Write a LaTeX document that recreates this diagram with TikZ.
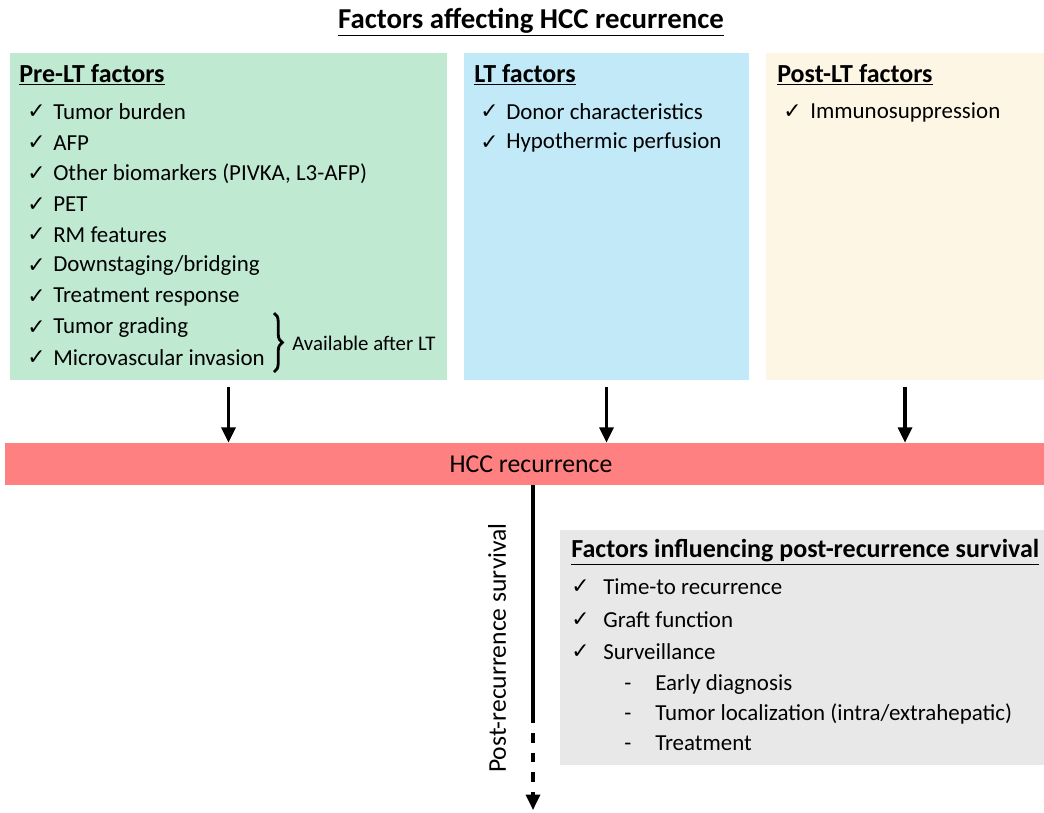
\documentclass[tikz,border=0pt]{standalone}
\usepackage{fontspec}
\setmainfont{Carlito}
\newfontfamily\symfont{DejaVu Sans}
\usepackage{xcolor}
\usetikzlibrary{arrows.meta, positioning, fit, decorations.pathreplacing}

\definecolor{pregreen}{RGB}{192,233,210}
\definecolor{ltblue}{RGB}{193,233,248}
\definecolor{postcream}{RGB}{254,246,228}
\definecolor{recred}{RGB}{255,128,128}
\definecolor{survgrey}{RGB}{232,232,232}

\tikzset{
  panel/.style={inner sep=0pt, draw=none},
  head/.style={anchor=west, inner sep=0pt, font=\fontsize{18.5}{22}\selectfont\bfseries},
  item/.style={anchor=west, inner sep=0pt, font=\fontsize{16.3}{19}\selectfont},
  tick/.style={anchor=west, inner sep=0pt, font=\fontsize{15.5}{18}\selectfont\symfont},
  arr/.style={line width=2.2pt, -{Triangle[length=11pt, width=10pt]}}
}

\begin{document}
\begin{tikzpicture}[x=0.025cm, y=-0.025cm]
  \useasboundingbox (0,0) rectangle (1044,812);
  \fill[white] (0,0) rectangle (1044,812);

  % === TITLE ===
  \node[inner sep=0pt, font=\fontsize{20.5}{24}\selectfont\bfseries] (title) at (531,22)
    {\underline{Factors affecting HCC recurrence}};

  % === TOP PANELS ===
  \node[panel, fill=pregreen, fit={(10,53) (447,380)}] (pre) {};
  \node[panel, fill=ltblue, fit={(464,53) (749,380)}] (lt) {};
  \node[panel, fill=postcream, fit={(766,53) (1044,380)}] (post) {};

  % Pre-LT factors
  \node[head] (prehead) at (19,75) {\underline{Pre-LT factors}};
  \foreach \t [count=\i from 0] in {Tumor burden, AFP, {Other biomarkers (PIVKA, L3-AFP)},
      PET, RM features, Downstaging/bridging, Treatment response, Tumor grading,
      Microvascular invasion} {
    \node[tick] (prechk\i) at (27,112+\i*30.75) {✓};
    \node[item] (pre\i) at (53,112+\i*30.75) {\t};
  }
  \draw[line width=2pt, decorate, decoration={brace, amplitude=6pt}]
    (274,313) -- (274,372);
  \node[anchor=west, inner sep=0pt, font=\fontsize{14.8}{17}\selectfont] (after) at (292,343)
    {Available after LT};

  % LT factors
  \node[head] (lthead) at (474,75) {\underline{LT factors}};
  \foreach \t [count=\i from 0] in {Donor characteristics, Hypothermic perfusion} {
    \node[tick] (ltchk\i) at (480,112+\i*30.75) {✓};
    \node[item] (lt\i) at (506,112+\i*30.75) {\t};
  }

  % Post-LT factors
  \node[head] (posthead) at (777,75) {\underline{Post-LT factors}};
  \node[tick] (postchk0) at (783,112) {✓};
  \node[item] (post0) at (810,112) {Immunosuppression};

  % === HCC RECURRENCE BAR ===
  \node[panel, fill=recred, fit={(5,443) (1044,485)}] (bar) {};
  \node[item, anchor=center, font=\fontsize{18.3}{21}\selectfont] (barlabel) at (531,464)
    {HCC recurrence};

  \draw[arr, shorten <=5pt] (pre.south) -- (pre.south |- bar.north);
  \draw[arr, shorten <=5pt] (lt.south) -- (lt.south |- bar.north);
  \draw[arr, shorten <=5pt] (post.south) -- (post.south |- bar.north);

  % === POST-RECURRENCE SURVIVAL ===
  \coordinate (solidend) at (533,723);
  \coordinate (tip) at (533,810);
  \draw[line width=2.2pt] (bar.south -| solidend) -- (solidend);
  \draw[arr, dash pattern=on 7pt off 7pt, dash phase=7pt] (solidend) -- (tip);
  \node[item, anchor=center, rotate=90, font=\fontsize{18.2}{21}\selectfont] (survlabel)
    at (497,648) {Post-recurrence survival};

  \node[panel, fill=survgrey, fit={(560,530) (1044,765)}] (surv) {};
  \node[head] (survhead) at (571,552) {\underline{Factors influencing post-recurrence survival}};
  \foreach \t [count=\i from 0] in {Time-to recurrence, Graft function, Surveillance} {
    \node[tick] (survchk\i) at (571,587+\i*32.5) {✓};
    \node[item] (surv\i) at (603,587+\i*32.5) {\t};
  }
  \foreach \t [count=\i from 0] in {Early diagnosis, Tumor localization (intra/extrahepatic),
      Treatment} {
    \node[item, anchor=base west] (sub\i) at (624,690+\i*30) {-};
    \node[item, anchor=base west] (subtxt\i) at (655,690+\i*30) {\t};
  }
\end{tikzpicture}
\end{document}
